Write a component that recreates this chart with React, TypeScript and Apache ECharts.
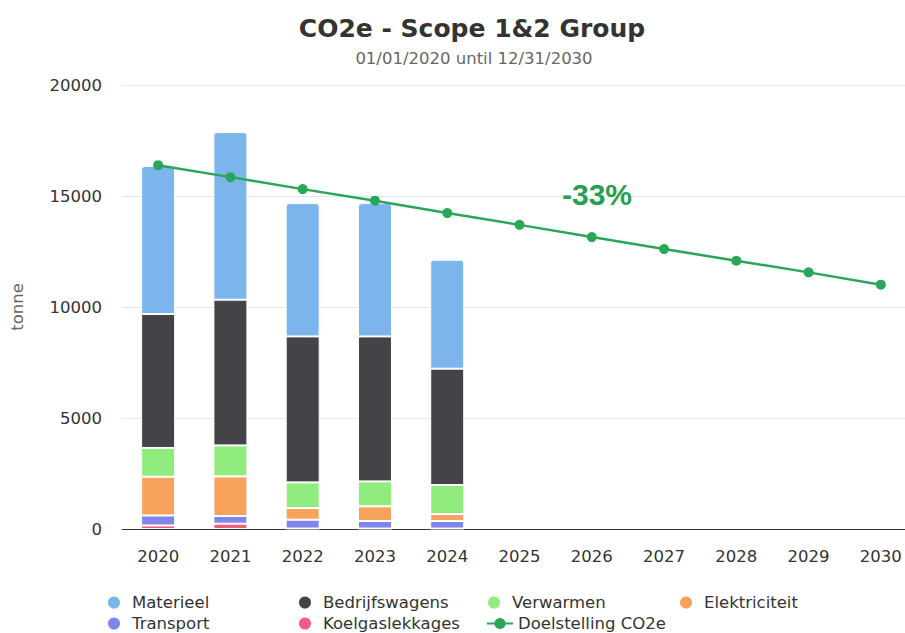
import React, { useEffect, useRef } from "react";
import * as echarts from "echarts";

const years = ["2020", "2021", "2022", "2023", "2024", "2025", "2026", "2027", "2028", "2029", "2030"];
const materieel = [6665, 7550, 6005, 6005, 4910, null, null, null, null, null, null];
const bedrijfswagens = [6035, 6565, 6575, 6530, 5240, null, null, null, null, null, null];
const verwarmen = [1295, 1395, 1155, 1125, 1305, null, null, null, null, null, null];
const elektriciteit = [1745, 1785, 525, 660, 315, null, null, null, null, null, null];
const transport = [450, 345, 400, 340, 340, null, null, null, null, null, null];
const koelgaslekkages = [160, 240, 20, 20, 20, null, null, null, null, null, null];
const doelstelling = [16390, 15850, 15310, 14790, 14230, 13700, 13150, 12610, 12085, 11560, 11005];
const yTicks = [0, 5000, 10000, 15000, 20000];

const FONT = "DejaVu Sans";

export default function App() {
  const ref = useRef<HTMLDivElement>(null);
  useEffect(() => {
    if (!ref.current) return;
    document.body.style.margin = "0";
    const chart = echarts.init(ref.current, null, { renderer: "svg" });
    const bar = (name: string, data: any[], color: string, top = false) => ({
      name,
      type: "bar",
      stack: "total",
      data,
      barWidth: 34,
      itemStyle: {
        color,
        borderColor: "#ffffff",
        borderWidth: 1,
        borderRadius: top ? [3, 3, 0, 0] : 0,
      },
    });
    const legendItems = [
      { name: "Materieel", cx: 119, cy: 603 },
      { name: "Bedrijfswagens", cx: 310, cy: 603 },
      { name: "Verwarmen", cx: 499, cy: 603 },
      { name: "Elektriciteit", cx: 691, cy: 603 },
      { name: "Transport", cx: 119, cy: 624 },
      { name: "Koelgaslekkages", cx: 310, cy: 624 },
      { name: "Doelstelling CO2e", cx: 499, cy: 624, line: true },
    ];
    chart.setOption({
      animation: false,
      backgroundColor: "#ffffff",
      title: [
        {
          text: "CO2e - Scope 1&2 Group",
          left: 467,
          textAlign: "center",
          top: 11,
          textStyle: { fontFamily: FONT, fontWeight: "bold", fontSize: 25, color: "#333333" },
        },
        {
          text: "01/01/2020 until 12/31/2030",
          left: 469,
          textAlign: "center",
          top: 45,
          textStyle: { fontFamily: FONT, fontWeight: "normal", fontSize: 16.5, color: "#666666" },
        },
      ],
      legend: legendItems.map((it) => ({
        data: [it.line ? { name: it.name } : { name: it.name, icon: "circle" }],
        left: it.cx - 13,
        top: it.cy - 9,
        itemWidth: 26,
        itemHeight: 14,
        padding: 0,
        selectedMode: false,
        textStyle: { fontFamily: FONT, fontSize: 16.5, color: "#333333" },
      })),
      grid: {
        left: 122,
        top: 85,
        width: 795,
        height: 444,
        containLabel: false,
        outerBoundsMode: "none",
      },
      xAxis: {
        type: "category",
        data: years,
        axisLine: { lineStyle: { color: "#333333", width: 1 } },
        axisTick: { show: false },
        axisLabel: { fontFamily: FONT, fontSize: 16.5, color: "#333333", margin: 19 },
      },
      yAxis: {
        type: "value",
        min: yTicks[0],
        max: yTicks[yTicks.length - 1],
        interval: 5000,
        name: "tonne",
        nameLocation: "middle",
        nameRotate: 90,
        nameGap: 96,
        nameTextStyle: { fontFamily: FONT, fontSize: 16.5, color: "#666666" },
        axisLine: { show: false },
        axisTick: { show: false },
        axisLabel: {
          fontFamily: FONT,
          fontSize: 16.5,
          color: "#333333",
          margin: 20,
          formatter: (v: number) => String(v),
        },
        splitLine: { lineStyle: { color: "#e6e6e6", width: 1 } },
      },
      series: [
        bar("Koelgaslekkages", koelgaslekkages, "#f15c80"),
        bar("Transport", transport, "#8085e9"),
        bar("Elektriciteit", elektriciteit, "#f7a35c"),
        bar("Verwarmen", verwarmen, "#90ed7d"),
        bar("Bedrijfswagens", bedrijfswagens, "#434348"),
        bar("Materieel", materieel, "#7cb5ec", true),
        {
          name: "Doelstelling CO2e",
          type: "line",
          data: doelstelling,
          symbol: "circle",
          symbolSize: 10,
          z: 5,
          lineStyle: { color: "#2aa65a", width: 2.5 },
          itemStyle: { color: "#2aa65a" },
        },
      ],
      graphic: [
        {
          type: "text",
          left: 562,
          top: 179,
          z: 10,
          style: {
            text: "-33%",
            fontFamily: "Liberation Sans",
            fontWeight: "bold",
            fontSize: 30,
            fill: "#24a04f",
            backgroundColor: "#ffffff",
          },
        },
      ],
    });
    return () => chart.dispose();
  }, []);
  return <div ref={ref} style={{ width: 905, height: 633 }} />;
}
